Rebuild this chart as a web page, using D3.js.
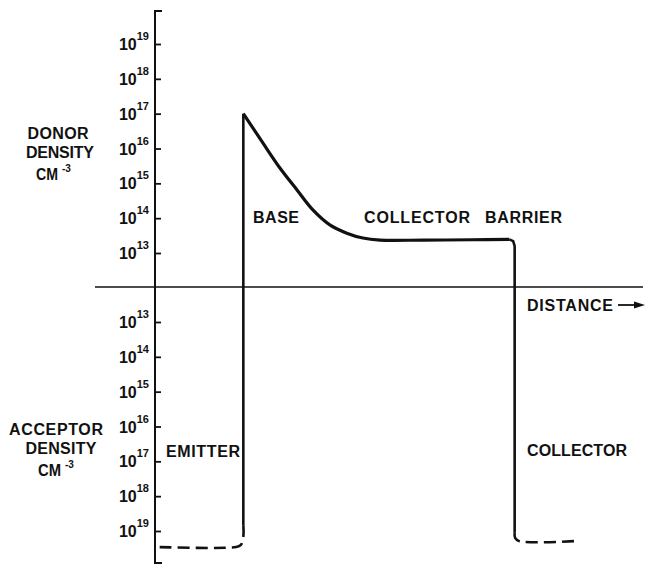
<!DOCTYPE html>
<html><head><meta charset="utf-8">
<script src="https://cdn.jsdelivr.net/npm/d3@7"></script>
<style>
html,body{margin:0;padding:0;background:#fff;}
svg text{font-family:"Liberation Sans",Arial,sans-serif;font-weight:bold;fill:#111;}
</style></head>
<body><svg id="c" width="651" height="575"></svg>
<script>
// ---- data ----
const donorExponents = [13, 14, 15, 16, 17, 18, 19];
const acceptorExponents = [13, 14, 15, 16, 17, 18, 19];
// signed exponent: positive = donor density, negative = acceptor density
const baseDistance = [18.1, 22.1, 25.6, 29.1, 32.4, 35.9, 39.3, 42.6, 46.1, 55, 65, 72.6];
const baseDonorExp = [17.0, 16.16, 15.44, 14.81, 14.23, 13.80, 13.57, 13.43, 13.37, 13.37, 13.38, 13.39];
const emitterEdgeDistance = [18.1, 18.1];
const emitterEdgeExp = [-18.83, 17.0];
const collectorEdgeDistance = [72.6, 73.4, 73.7, 73.7];
const collectorEdgeExp = [13.39, 13.34, 13.2, -19.03];
const emitterTailDistance = [18.1, 18.1, 17.6, 16.6, 0.4];
const emitterTailExp = [-18.83, -19.15, -19.4, -19.46, -19.46];
const collectorTailDistance = [73.7, 73.8, 74.6, 86.1];
const collectorTailExp = [-19.03, -19.2, -19.29, -19.29];
const regionLabels = ["BASE", "COLLECTOR", "BARRIER", "EMITTER", "COLLECTOR"];

// ---- scales ----
const svg = d3.select("#c");
const x = d3.scaleLinear().domain([0, 100]).range([155, 643]);
const donorY = d3.scaleLinear().domain([13, 19]).range([253, 44]);
const acceptorY = d3.scaleLinear().domain([13, 19]).range([322, 531]);
const yOf = v => v >= 0 ? donorY(v) : acceptorY(-v);
const zip = (a, b) => a.map((d, i) => [d, b[i]]);

// zero (distance) line
svg.append("line").attr("x1", 95).attr("x2", 643).attr("y1", 287).attr("y2", 287)
  .attr("stroke", "#111").attr("stroke-width", 1.5);

// vertical axis with caps
svg.append("path").attr("d", "M162,11H155V563H162").attr("fill", "none")
  .attr("stroke", "#111").attr("stroke-width", 2);

const ax1 = svg.append("g").attr("transform", "translate(155,0)")
  .call(d3.axisRight(donorY).tickValues(donorExponents).tickSize(6).tickFormat(""));
const ax2 = svg.append("g").attr("transform", "translate(155,0)")
  .call(d3.axisRight(acceptorY).tickValues(acceptorExponents).tickSize(6).tickFormat(""));
[ax1, ax2].forEach(a => {
  a.select(".domain").remove();
  a.selectAll("line").attr("stroke", "#111").attr("stroke-width", 1.8);
});

function tickLabel(y, e) {
  const t = svg.append("text").attr("x", 149).attr("y", y + 6).attr("text-anchor", "end")
    .attr("font-size", 16);
  t.append("tspan").text("10");
  t.append("tspan").attr("font-size", 11).attr("dy", -10).text(e);
}
donorExponents.forEach(e => tickLabel(donorY(e), e));
acceptorExponents.forEach(e => tickLabel(acceptorY(e), e));

// profile
const line = d3.line().x(d => x(d[0])).y(d => yOf(d[1]));
svg.append("path").attr("d", line(zip(emitterEdgeDistance, emitterEdgeExp)))
  .attr("fill", "none").attr("stroke", "#111").attr("stroke-width", 2.6);
svg.append("path").attr("d", line.curve(d3.curveCatmullRom.alpha(0.5))(zip(baseDistance, baseDonorExp)))
  .attr("fill", "none").attr("stroke", "#111").attr("stroke-width", 3.2).attr("stroke-linejoin", "round");
line.curve(d3.curveLinear);
svg.append("path").attr("d", line(zip(collectorEdgeDistance, collectorEdgeExp)))
  .attr("fill", "none").attr("stroke", "#111").attr("stroke-width", 2.6).attr("stroke-linejoin", "round");
const dline = d3.line().x(d => x(d[0])).y(d => yOf(d[1])).curve(d3.curveCatmullRom.alpha(0.5));
svg.append("path").attr("d", dline(zip(emitterTailDistance, emitterTailExp)))
  .attr("fill", "none").attr("stroke", "#111").attr("stroke-width", 2.6).attr("stroke-dasharray", "12,6");
svg.append("path").attr("d", dline(zip(collectorTailDistance, collectorTailExp)))
  .attr("fill", "none").attr("stroke", "#111").attr("stroke-width", 2.6).attr("stroke-dasharray", "12,6");

// text labels
function label(txt, xx, yy, anchor, len, squeeze) {
  const t = svg.append("text").attr("x", xx).attr("y", yy).attr("font-size", 16)
    .attr("text-anchor", anchor || "start").text(txt);
  if (len) t.attr("textLength", len);
  if (squeeze) t.attr("lengthAdjust", "spacingAndGlyphs");
  return t;
}
label(regionLabels[0], 253, 223, "start", 46);
label(regionLabels[1], 364, 223, "start", 106);
label(regionLabels[2], 485, 223, "start", 77);
label(regionLabels[3], 166, 457, "start", 74);
label(regionLabels[4], 527, 456, "start", 100);
label("DISTANCE", 527, 311, "start", 86);
// arrow
svg.append("line").attr("x1", 618).attr("x2", 636).attr("y1", 305).attr("y2", 305)
  .attr("stroke", "#111").attr("stroke-width", 1.8);
svg.append("path").attr("d", "M634,301.5L645,305L634,308.5Z").attr("fill", "#111");

label("DONOR", 58, 139, "middle", 61);
label("DENSITY", 60, 158, "middle", 68);
label("CM", 36, 180, "start", 22, true);
svg.append("text").attr("x", 62).attr("y", 171.5).attr("font-size", 10).text("-3");
label("ACCEPTOR", 56, 435, "middle", 94);
label("DENSITY", 61, 454, "middle", 71);
label("CM", 38, 476, "start", 23, true);
svg.append("text").attr("x", 65).attr("y", 467.5).attr("font-size", 10).text("-3");
</script></body></html>
